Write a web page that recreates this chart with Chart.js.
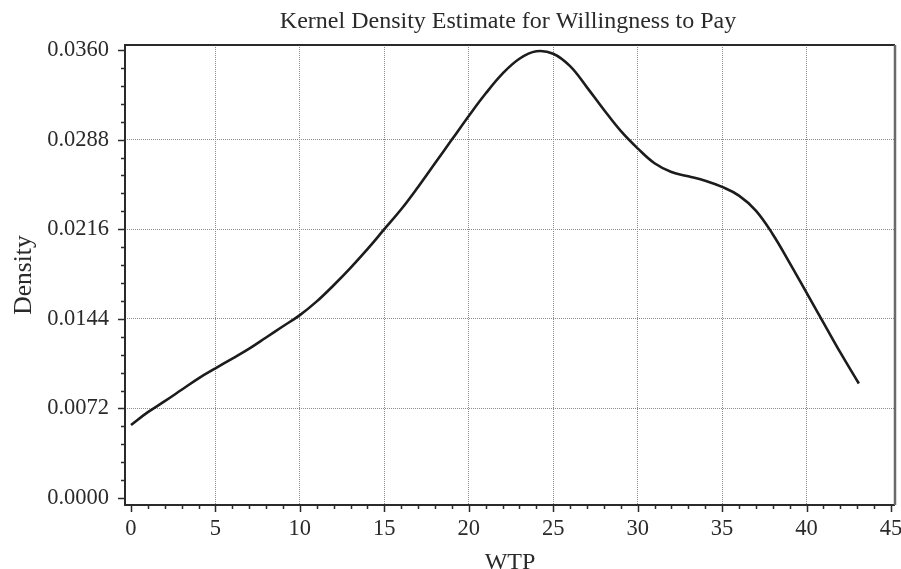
<!DOCTYPE html>
<html>
<head>
<meta charset="utf-8">
<script src="https://cdn.jsdelivr.net/npm/chart.js@4.4.1/dist/chart.umd.min.js"></script>
<style>
  html, body { margin: 0; padding: 0; background: #fff; }
  #wrap { width: 901px; height: 569px; }
</style>
</head>
<body>
<div id="wrap"><canvas id="kde"></canvas></div>
<script>
// WTP grid and estimated density along it
const wtp = [0, 1, 2, 3, 4, 5, 6, 7, 8, 9, 10, 11, 12, 13, 14, 15, 16, 17, 18, 19, 20,
  21, 22, 23, 24, 25, 26, 27, 28, 29, 30, 31, 32, 33, 34, 35, 36, 37, 38, 39, 40, 41, 42, 43.1]
const density = [0.00587, 0.0069, 0.00778, 0.0087, 0.00962, 0.01042, 0.0112, 0.0120, 0.0129, 0.0138, 0.0147,
  0.0158, 0.0171, 0.0185, 0.0200, 0.0216, 0.0232, 0.0250, 0.0269, 0.0288, 0.0307,
  0.0325, 0.0341, 0.0353, 0.0359, 0.0357, 0.0347, 0.0330, 0.0312, 0.0295, 0.0281,
  0.0269, 0.0262, 0.02585, 0.0255, 0.0250, 0.0243, 0.0231, 0.0212, 0.0189, 0.0165, 0.0141, 0.0117, 0.0092]

const xTicks = [0, 5, 10, 15, 20, 25, 30, 35, 40, 45]
const yTicks = [0, 0.0072, 0.0144, 0.0216, 0.0288, 0.0360]
const xMinorStep = 1
const yMinorStep = 0.00144

const serif = '"Liberation Serif", "Times New Roman", serif'
const ink = '#2a2a2a'

// no grid line on the outermost ticks, they sit on the frame
const gridColor = (ctx) => {
  const n = ctx.scale.ticks.length
  return (ctx.index === 0 || ctx.index === n - 1) ? 'rgba(0,0,0,0)' : '#8c8c8c'
}

const frameAndTicks = {
  id: 'frameAndTicks',
  afterDraw(chart) {
    const { ctx, chartArea: a, scales: { x, y } } = chart
    ctx.save()
    // minor / major tick marks, outward
    ctx.strokeStyle = ink
    ctx.lineWidth = 1.5
    ctx.beginPath()
    const ny = Math.round(yTicks[yTicks.length - 1] / yMinorStep)
    for (let i = 0; i <= ny; i++) {
      const py = Math.round(y.getPixelForValue(i * yMinorStep)) + 0.5
      const len = i % 5 === 0 ? 7 : 4
      ctx.moveTo(a.left - len, py)
      ctx.lineTo(a.left, py)
    }
    const nx = Math.round(xTicks[xTicks.length - 1] / xMinorStep)
    for (let i = 0; i <= nx; i++) {
      const px = Math.round(x.getPixelForValue(i * xMinorStep)) + 0.5
      const len = i % 5 === 0 ? 7 : 4
      ctx.moveTo(px, a.bottom)
      ctx.lineTo(px, a.bottom + len)
    }
    ctx.stroke()
    // frame
    ctx.lineWidth = 2
    ctx.strokeStyle = ink
    ctx.beginPath()
    ctx.moveTo(a.right, a.top)
    ctx.lineTo(a.left, a.top)
    ctx.lineTo(a.left, a.bottom)
    ctx.lineTo(a.right, a.bottom)
    ctx.stroke()
    ctx.lineWidth = 2.5
    ctx.strokeStyle = '#6a6a6a'
    ctx.beginPath()
    ctx.moveTo(a.right, a.top)
    ctx.lineTo(a.right, a.bottom)
    ctx.stroke()
    // chart title, centred over the plot area
    ctx.fillStyle = ink
    ctx.font = '24px ' + serif
    ctx.textAlign = 'center'
    ctx.textBaseline = 'alphabetic'
    ctx.fillText('Kernel Density Estimate for Willingness to Pay', (a.left + a.right) / 2 - 2, 28)
    ctx.restore()
  }
}

const ctx = document.getElementById('kde').getContext('2d')
const kdeChart = new Chart(ctx, {
  type: 'line',
  data: {
    datasets: [
      {
        data: wtp.map((v, i) => ({ x: v, y: density[i] })),
        borderColor: '#1c1c1c',
        borderWidth: 2.6,
        pointRadius: 0,
        tension: 0.4,
        fill: false,
      }
    ]
  },
  options: {
    responsive: true,
    maintainAspectRatio: false,
    animation: false,
    layout: { padding: { top: 45, right: 6, left: 0, bottom: 0 } },
    plugins: {
      legend: { display: false },
      title: { display: false },
      tooltip: { enabled: false },
    },
    scales: {
      x: {
        type: 'linear',
        min: -0.355,
        max: 45.24,
        afterBuildTicks: (scale) => { scale.ticks = xTicks.map(v => ({ value: v })) },
        afterFit: (scale) => {
          scale.height = 64
          scale.paddingLeft = 0
          scale.paddingRight = 0
        },
        grid: { color: gridColor, lineWidth: 1, drawTicks: false },
        border: { display: false, dash: [1, 1] },
        ticks: {
          color: ink,
          padding: 11,
          maxRotation: 0,
          autoSkip: false,
          font: { family: serif, size: 22.5 },
          callback: (v) => String(v),
        },
        title: {
          display: true,
          text: 'WTP',
          color: ink,
          font: { family: serif, size: 24, lineHeight: 1.05 },
          padding: { top: 0, bottom: -6 },
        },
      },
      y: {
        min: -0.00056,
        max: 0.036402,
        afterBuildTicks: (scale) => { scale.ticks = yTicks.map(v => ({ value: v })) },
        afterFit: (scale) => {
          scale.width = 125
          scale.paddingTop = 0
          scale.paddingBottom = 0
        },
        grid: { color: gridColor, lineWidth: 1, drawTicks: false },
        border: { display: false, dash: [1, 1] },
        ticks: {
          color: ink,
          padding: 16,
          autoSkip: false,
          font: { family: serif, size: 22.5 },
          callback: (v) => Number(v).toFixed(4),
        },
        title: {
          display: true,
          text: 'Density',
          color: ink,
          font: { family: serif, size: 25.5, lineHeight: 1.2 },
          padding: { top: 9, bottom: 0 },
        },
      }
    }
  },
  plugins: [frameAndTicks]
})
</script>
</body>
</html>
